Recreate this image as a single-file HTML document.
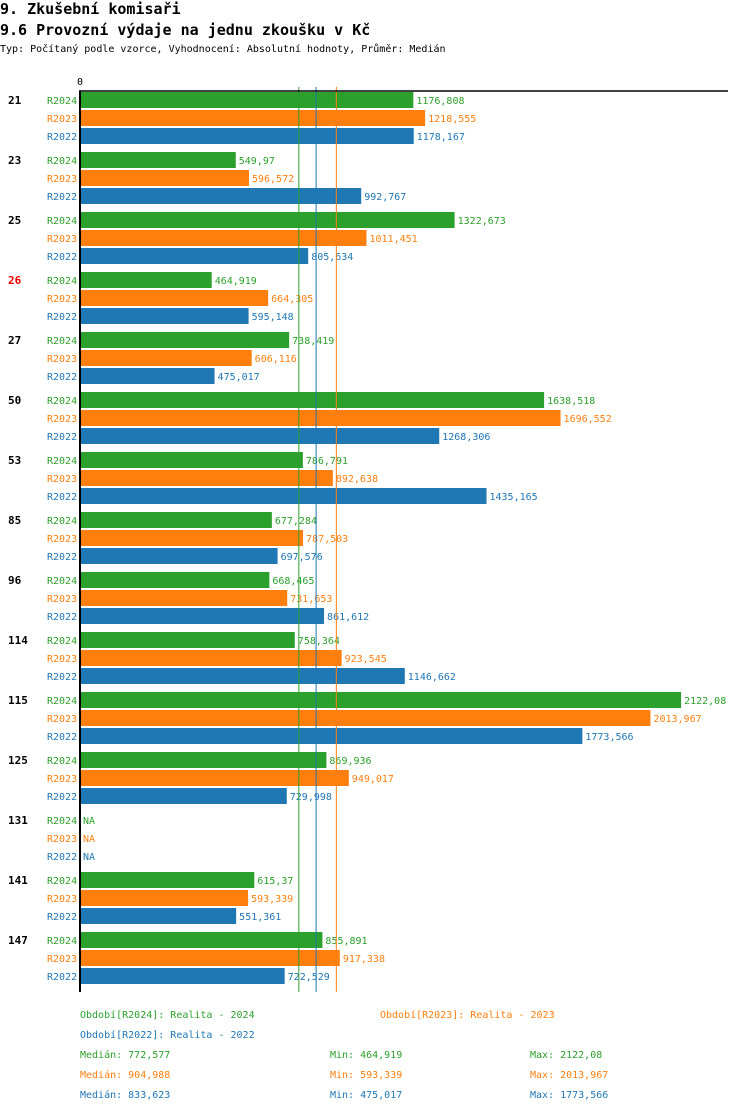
<!DOCTYPE html>
<html><head><meta charset="utf-8"><style>
body{margin:0;background:#fff;width:750px;height:1112px;overflow:hidden;font-family:"DejaVu Sans Mono","Liberation Mono",monospace}
.t{position:absolute;left:0;white-space:nowrap;color:#000}
</style></head><body>
<div class="t" style="top:0;font-size:15px;line-height:18px;font-weight:bold">9. Zkušební komisaři</div>
<div class="t" style="top:21px;font-size:15px;line-height:18px;font-weight:bold">9.6 Provozní výdaje na jednu zkoušku v Kč</div>
<div class="t" style="top:43px;font-size:10px;line-height:14px">Typ: Počítaný podle vzorce, Vyhodnocení: Absolutní hodnoty, Průměr: Medián</div>
<svg id="c" width="750" height="1112" style="position:absolute;left:0;top:0"></svg>
<script>
const groups=["21","23","25","26","27","50","53","85","96","114","115","125","131","141","147"];
const seriesNames=["R2024","R2023","R2022"];
const r2024=[1176.808,549.97,1322.673,464.919,738.419,1638.518,786.791,677.284,668.465,758.364,2122.08,869.936,null,615.37,855.891];
const r2023=[1218.555,596.572,1011.451,664.305,606.116,1696.552,892.638,787.503,731.653,923.545,2013.967,949.017,null,593.339,917.338];
const r2022=[1178.167,992.767,805.634,595.148,475.017,1268.306,1435.165,697.576,861.612,1146.662,1773.566,729.998,null,551.361,722.529];
const medians=[772.577,904.988,833.623];
const mins=[464.919,593.339,475.017];
const maxs=[2122.08,2013.967,1773.566];
const highlight=["26"];
const colors=["#2ca02c","#ff7f0e","#1f77b4"];
const data=[r2024,r2023,r2022];
const NS="http://www.w3.org/2000/svg";
const svg=document.getElementById('c');
const x=v=>80+v*0.28325;
const yRow=(g,s)=>100+g*60+s*18;
function mk(t,a){const e=document.createElementNS(NS,t);for(const k in a)e.setAttribute(k,a[k]);svg.appendChild(e);return e;}
function fmt(v){return String(v).replace('.',',');}
const F='"DejaVu Sans Mono","Liberation Mono",monospace';
let t=mk('text',{x:80,y:85,'font-size':10,'font-family':F,'text-anchor':'middle'});t.textContent='0';


groups.forEach((g,gi)=>{
  const gl=mk('text',{x:8,y:yRow(gi,0)+4,'font-size':11,'font-weight':'bold','font-family':F,fill:highlight.includes(g)?'#e00':'#000'});
  gl.textContent=g;
  
  
  seriesNames.forEach((s,si)=>{
    const yc=yRow(gi,si);
    const sl=mk('text',{x:47,y:yc+4,'font-size':10,'font-family':F,fill:colors[si]});
    sl.textContent=s;
    
    
    const v=data[si][gi];
    if(v!==null){
      const r=mk('rect',{x:81,y:yc-8,width:x(v)-81,height:16,fill:colors[si]});
      
      
    }
    const vl=mk('text',{x:(v===null?x(0):x(v))+3,y:yc+4,'font-size':10,'font-family':F,fill:colors[si]});
    vl.textContent=v===null?'NA':fmt(v);
    
    
  });
});
medians.forEach((m,i)=>{
  const l=mk('line',{x1:x(m),x2:x(m),y1:87,y2:992,stroke:colors[i],'stroke-width':1});
  
  
});
let a=mk('line',{x1:80,x2:80,y1:91,y2:992,stroke:'#000','stroke-width':2});


a=mk('line',{x1:79,x2:728,y1:91,y2:91,stroke:'#000','stroke-width':1.5});


function txt(s,xx,yy,c,n){const e=mk('text',{x:xx,y:yy,'font-size':10,'font-family':F,fill:c});e.textContent=s;}
txt('Období[R2024]: Realita - 2024',80,1018,colors[0],'legend-entry');
txt('Období[R2023]: Realita - 2023',380,1018,colors[1],'legend-entry');
txt('Období[R2022]: Realita - 2022',80,1038,colors[2],'legend-entry');
for(let i=0;i<3;i++){
  const yy=1058+i*20;
  txt('Medián: '+fmt(medians[i]),80,yy,colors[i],'median-stat');
  txt('Min: '+fmt(mins[i]),330,yy,colors[i],'min-stat');
  txt('Max: '+fmt(maxs[i]),530,yy,colors[i],'max-stat');
}
</script>
</body></html>
